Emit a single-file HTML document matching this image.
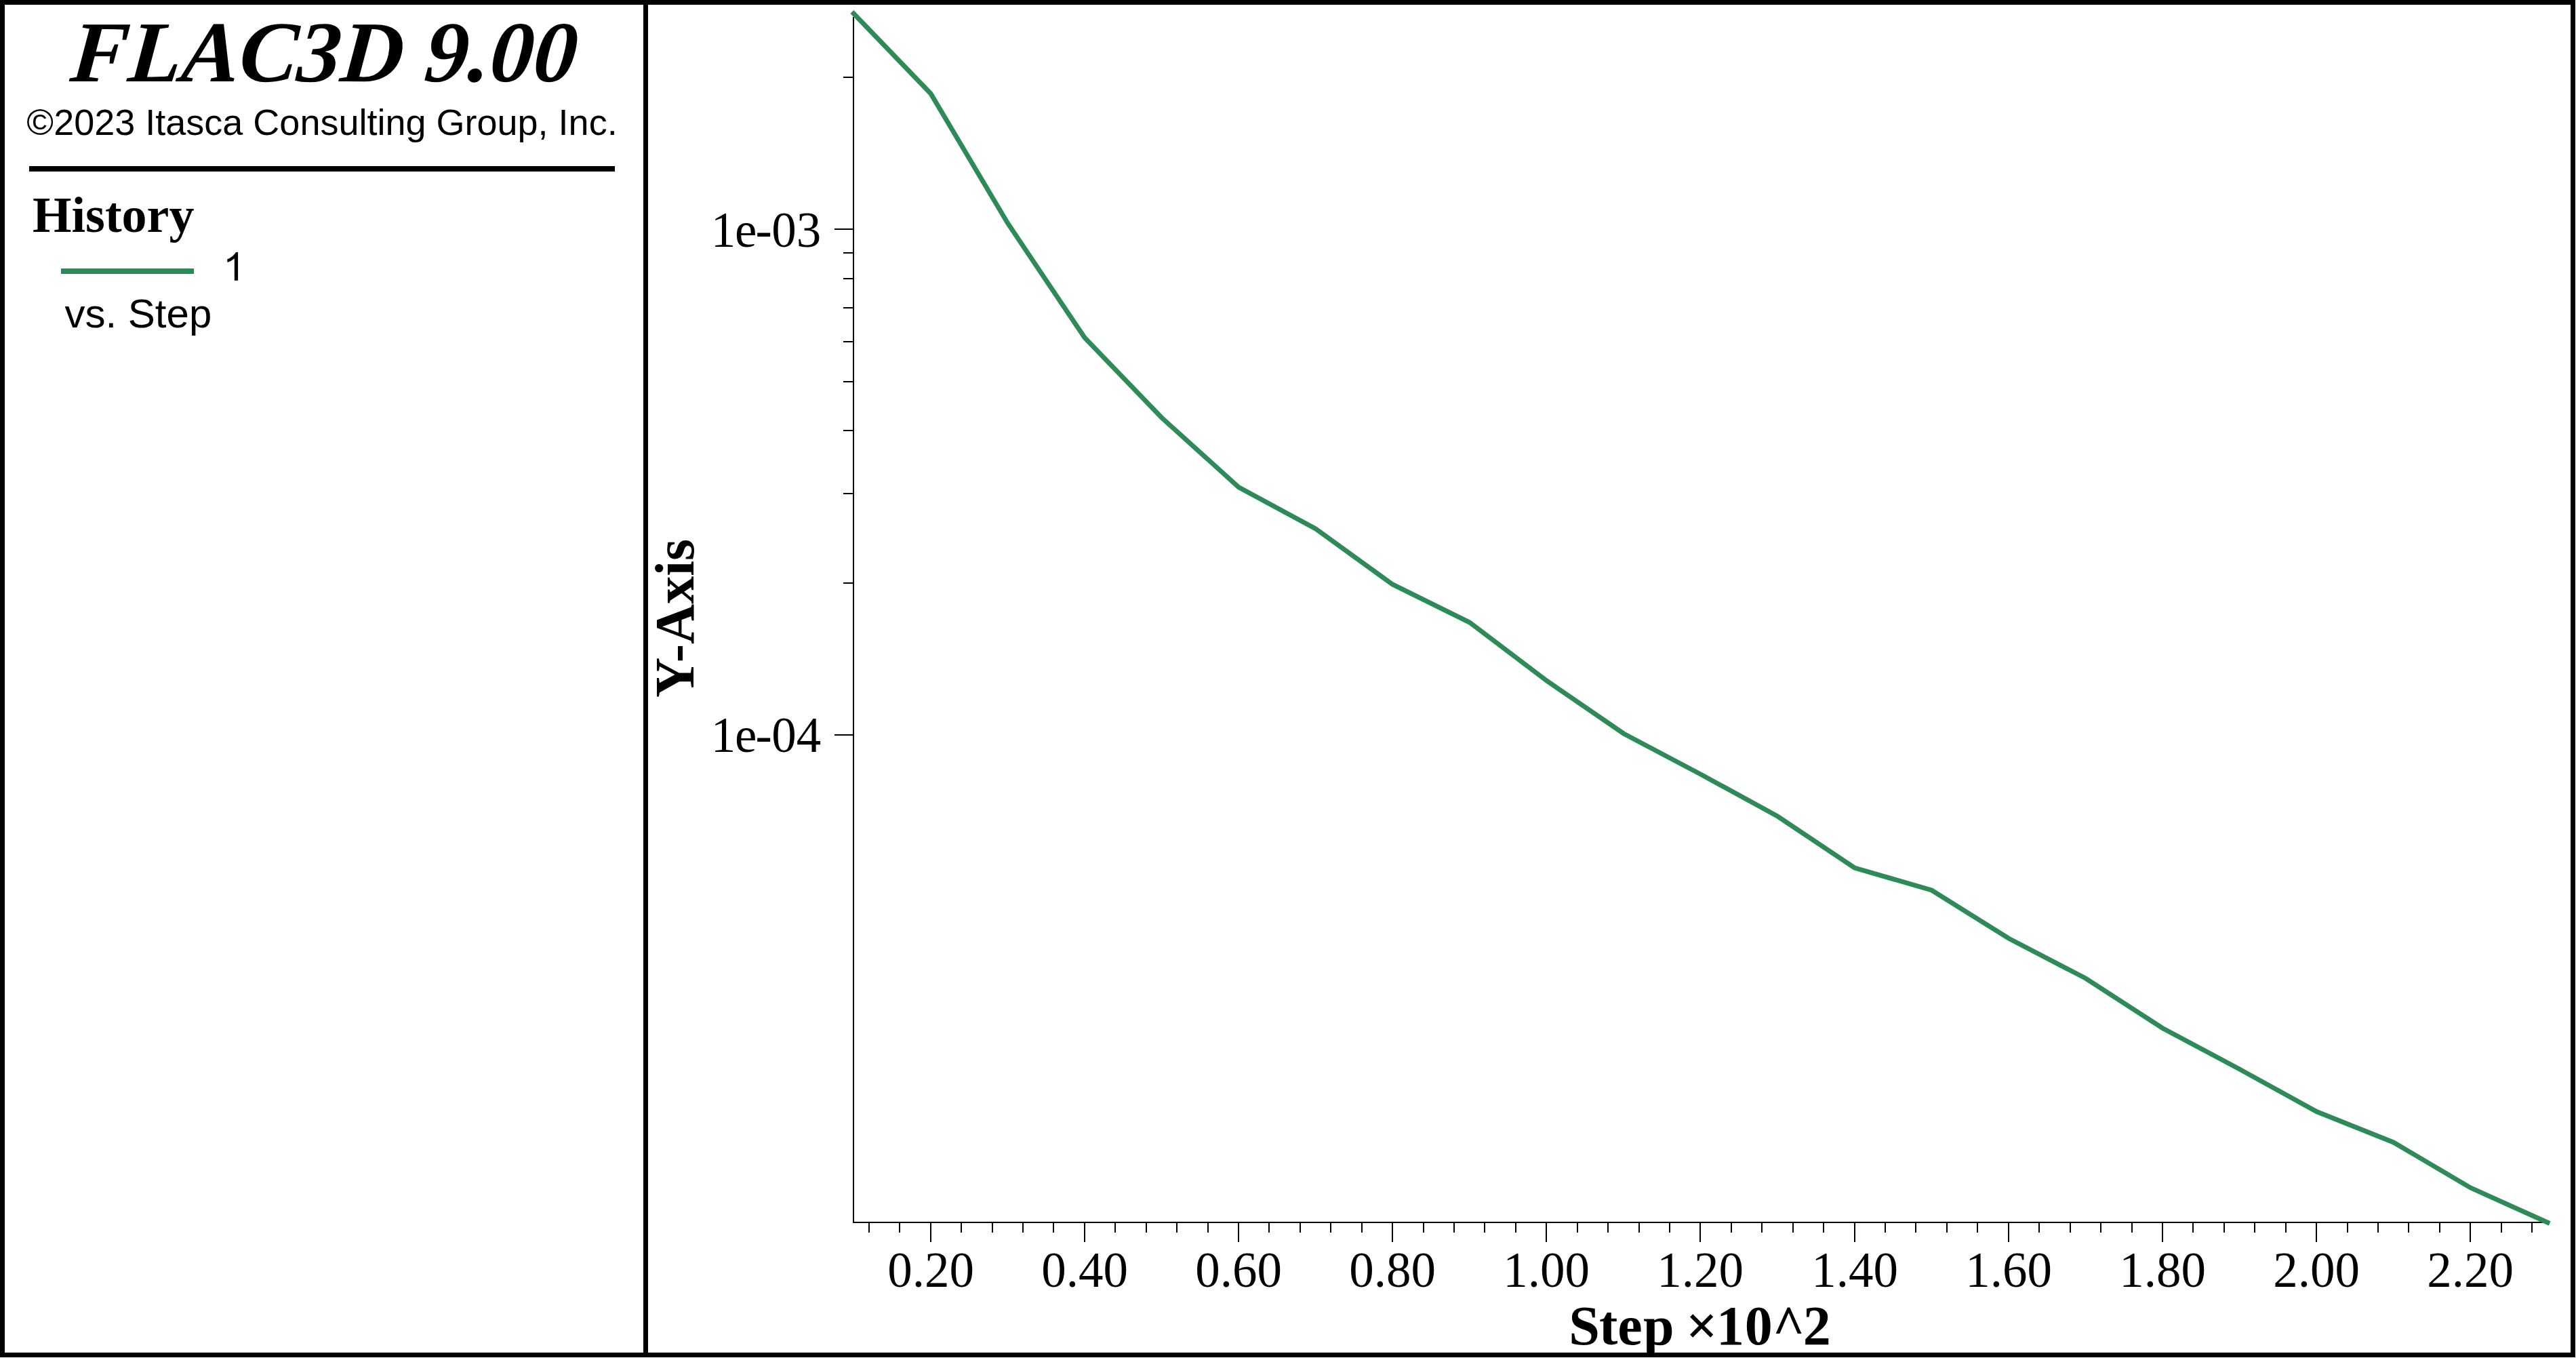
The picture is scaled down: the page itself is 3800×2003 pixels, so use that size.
<!DOCTYPE html>
<html><head><meta charset="utf-8"><style>
html,body{margin:0;padding:0;background:#fff;overflow:hidden;}
svg{display:block;}
.tl{font-family:"Liberation Serif",serif;font-size:73px;fill:#000;}
.at{font-family:"Liberation Serif",serif;font-size:82px;font-weight:bold;fill:#000;}
.ttl{font-family:"Liberation Serif",serif;font-size:128px;font-weight:bold;font-style:italic;fill:#000;}
.cp{font-family:"Liberation Sans",sans-serif;font-size:54px;fill:#000;}
.hist{font-family:"Liberation Serif",serif;font-size:74px;font-weight:bold;fill:#000;}
.lg{font-family:"Liberation Sans",sans-serif;font-size:60px;fill:#000;}
</style></head><body>
<svg width="3800" height="2003" viewBox="0 0 3800 2003">
<rect x="0" y="0" width="3800" height="2003" fill="#fff"/>
<rect x="0" y="0" width="3799" height="7" fill="#000"/>
<rect x="0" y="1995" width="3799" height="7" fill="#000"/>
<rect x="0" y="0" width="7" height="2002" fill="#000"/>
<rect x="3792" y="0" width="7" height="2002" fill="#000"/>
<rect x="949" y="0" width="7" height="2002" fill="#000"/>
<rect x="1258" y="25" width="2" height="1779" fill="#000"/>
<rect x="1258" y="1802" width="2500" height="2" fill="#000"/>
<rect x="1281" y="1804" width="2" height="14" fill="#000"/>
<rect x="1326" y="1804" width="2" height="14" fill="#000"/>
<rect x="1372" y="1804" width="2" height="28" fill="#000"/>
<text x="1373" y="1897.5" class="tl" text-anchor="middle">0.20</text>
<rect x="1417" y="1804" width="2" height="14" fill="#000"/>
<rect x="1463" y="1804" width="2" height="14" fill="#000"/>
<rect x="1508" y="1804" width="2" height="14" fill="#000"/>
<rect x="1553" y="1804" width="2" height="14" fill="#000"/>
<rect x="1599" y="1804" width="2" height="28" fill="#000"/>
<text x="1600" y="1897.5" class="tl" text-anchor="middle">0.40</text>
<rect x="1644" y="1804" width="2" height="14" fill="#000"/>
<rect x="1690" y="1804" width="2" height="14" fill="#000"/>
<rect x="1735" y="1804" width="2" height="14" fill="#000"/>
<rect x="1781" y="1804" width="2" height="14" fill="#000"/>
<rect x="1826" y="1804" width="2" height="28" fill="#000"/>
<text x="1827" y="1897.5" class="tl" text-anchor="middle">0.60</text>
<rect x="1871" y="1804" width="2" height="14" fill="#000"/>
<rect x="1917" y="1804" width="2" height="14" fill="#000"/>
<rect x="1962" y="1804" width="2" height="14" fill="#000"/>
<rect x="2008" y="1804" width="2" height="14" fill="#000"/>
<rect x="2053" y="1804" width="2" height="28" fill="#000"/>
<text x="2054" y="1897.5" class="tl" text-anchor="middle">0.80</text>
<rect x="2099" y="1804" width="2" height="14" fill="#000"/>
<rect x="2144" y="1804" width="2" height="14" fill="#000"/>
<rect x="2189" y="1804" width="2" height="14" fill="#000"/>
<rect x="2235" y="1804" width="2" height="14" fill="#000"/>
<rect x="2280" y="1804" width="2" height="28" fill="#000"/>
<text x="2281" y="1897.5" class="tl" text-anchor="middle">1.00</text>
<rect x="2326" y="1804" width="2" height="14" fill="#000"/>
<rect x="2371" y="1804" width="2" height="14" fill="#000"/>
<rect x="2417" y="1804" width="2" height="14" fill="#000"/>
<rect x="2462" y="1804" width="2" height="14" fill="#000"/>
<rect x="2507" y="1804" width="2" height="28" fill="#000"/>
<text x="2508" y="1897.5" class="tl" text-anchor="middle">1.20</text>
<rect x="2553" y="1804" width="2" height="14" fill="#000"/>
<rect x="2598" y="1804" width="2" height="14" fill="#000"/>
<rect x="2644" y="1804" width="2" height="14" fill="#000"/>
<rect x="2689" y="1804" width="2" height="14" fill="#000"/>
<rect x="2735" y="1804" width="2" height="28" fill="#000"/>
<text x="2736" y="1897.5" class="tl" text-anchor="middle">1.40</text>
<rect x="2780" y="1804" width="2" height="14" fill="#000"/>
<rect x="2825" y="1804" width="2" height="14" fill="#000"/>
<rect x="2871" y="1804" width="2" height="14" fill="#000"/>
<rect x="2916" y="1804" width="2" height="14" fill="#000"/>
<rect x="2962" y="1804" width="2" height="28" fill="#000"/>
<text x="2963" y="1897.5" class="tl" text-anchor="middle">1.60</text>
<rect x="3007" y="1804" width="2" height="14" fill="#000"/>
<rect x="3053" y="1804" width="2" height="14" fill="#000"/>
<rect x="3098" y="1804" width="2" height="14" fill="#000"/>
<rect x="3144" y="1804" width="2" height="14" fill="#000"/>
<rect x="3189" y="1804" width="2" height="28" fill="#000"/>
<text x="3190" y="1897.5" class="tl" text-anchor="middle">1.80</text>
<rect x="3234" y="1804" width="2" height="14" fill="#000"/>
<rect x="3280" y="1804" width="2" height="14" fill="#000"/>
<rect x="3325" y="1804" width="2" height="14" fill="#000"/>
<rect x="3371" y="1804" width="2" height="14" fill="#000"/>
<rect x="3416" y="1804" width="2" height="28" fill="#000"/>
<text x="3417" y="1897.5" class="tl" text-anchor="middle">2.00</text>
<rect x="3462" y="1804" width="2" height="14" fill="#000"/>
<rect x="3507" y="1804" width="2" height="14" fill="#000"/>
<rect x="3552" y="1804" width="2" height="14" fill="#000"/>
<rect x="3598" y="1804" width="2" height="14" fill="#000"/>
<rect x="3643" y="1804" width="2" height="28" fill="#000"/>
<text x="3644" y="1897.5" class="tl" text-anchor="middle">2.20</text>
<rect x="3689" y="1804" width="2" height="14" fill="#000"/>
<rect x="3734" y="1804" width="2" height="14" fill="#000"/>
<rect x="1244" y="113" width="14" height="2" fill="#000"/>
<rect x="1244" y="859" width="14" height="2" fill="#000"/>
<rect x="1244" y="727" width="14" height="2" fill="#000"/>
<rect x="1244" y="634" width="14" height="2" fill="#000"/>
<rect x="1244" y="562" width="14" height="2" fill="#000"/>
<rect x="1244" y="503" width="14" height="2" fill="#000"/>
<rect x="1244" y="453" width="14" height="2" fill="#000"/>
<rect x="1244" y="410" width="14" height="2" fill="#000"/>
<rect x="1244" y="372" width="14" height="2" fill="#000"/>
<rect x="1231" y="337" width="27" height="2" fill="#000"/>
<rect x="1231" y="1083" width="27" height="2" fill="#000"/>
<text x="1048.7 1084.0 1114.6 1138.3 1174.8" y="363.5" class="tl">1e-03</text>
<text x="1048.7 1084.0 1114.6 1138.3 1174.8" y="1108.5" class="tl">1e-04</text>
<text x="2314.3 2359.0 2386.3 2423.9 2466.5 2487.0 2531.9 2573.8 2614.8 2659.8" y="1983" class="at">Step ×10^2</text>
<text transform="translate(1023,912) rotate(-90)" x="0" y="0" class="at" text-anchor="middle">Y-Axis</text>
<polyline points="1259.3,20 1372.9,138 1486.4,329 1600.0,498 1713.6,616 1827.2,718.5 1940.8,780 2054.3,862 2167.9,918 2281.5,1004 2395.1,1082 2508.7,1142 2622.2,1204 2735.8,1280 2849.4,1313 2963.0,1384 3076.6,1443 3190.1,1516.5 3303.7,1577 3417.3,1639.5 3530.9,1685 3644.5,1752 3758.0,1803" fill="none" stroke="#2E8B57" stroke-width="7" stroke-linecap="square" stroke-linejoin="miter"/>
<g transform="translate(475,120) skewX(-5)"><text x="0" y="0" class="ttl" text-anchor="middle">FLAC3D 9.00</text></g>
<text x="475" y="199.3" class="cp" text-anchor="middle">©2023 Itasca Consulting Group, Inc.</text>
<rect x="43" y="245" width="864" height="8" fill="#000"/>
<text x="48" y="341.8" class="hist">History</text>
<rect x="90" y="396" width="196" height="8" fill="#2E8B57"/>
<path d="M345.85 381.2 L345.85 413.8 L351.1 413.8 L351.1 372 L348 372 Q343.5 379.5 335.3 382.2 L335.5 387.1 Q341 385.2 345.85 381.2 Z" fill="#000"/>
<text x="95.5" y="483" class="lg">vs. Step</text>
</svg>
</body></html>
